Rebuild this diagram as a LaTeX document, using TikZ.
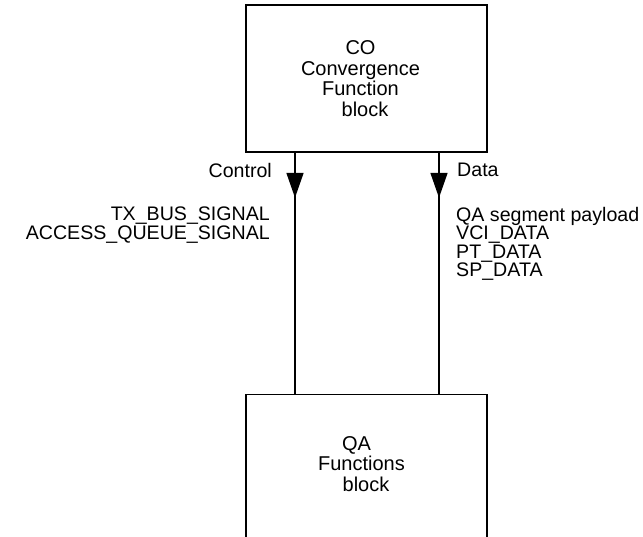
\documentclass[tikz,border=0pt]{standalone}
\usepackage{fontspec}
\setmainfont{Liberation Sans}
\usetikzlibrary{arrows.meta, positioning, decorations.markings}

\begin{document}
\begin{tikzpicture}[
    x=1pt, y=-1pt,
    box/.style={
        draw,
        line width=1.6pt,
        minimum width=241pt,
        inner sep=0pt
    },
    blocktext/.style={
        align=center,
        inner sep=0pt,
        font=\fontsize{20}{20.5}\selectfont
    },
    lbl/.style={
        inner sep=0pt,
        font=\fontsize{19.6}{18.5}\selectfont
    },
    flow/.style={
        line width=1.6pt,
        postaction={decorate},
        decoration={markings,
            mark=at position 45pt with {\arrow{Triangle[length=25pt, width=17pt]}}}
    },
    node distance=241pt
]
\useasboundingbox (0,0) rectangle (643,536);

\node[box, minimum height=147pt] (co) at (366.5,78.5) {};
\node[blocktext] (cotext) at ([xshift=-6pt]co.center)
{CO\\Convergence\\Function\\\hspace*{9pt}block};

\node[box, minimum height=167pt, below=of co] (qa) {};
\node[blocktext] (qatext) at ([xshift=-5pt, yshift=14pt]qa.center)
{QA\hspace*{10pt}\\Functions\\\hspace*{9pt}block};

\draw[flow] ([xshift=-71.5pt]co.south) -- ([xshift=-71.5pt]qa.north);
\draw[flow] ([xshift=72.5pt]co.south) -- ([xshift=72.5pt]qa.north);

\node[lbl, anchor=east] (ctl) at (272,170) {Control};
\node[lbl, anchor=west] (dat) at (457,170) {Data};

\node[lbl, anchor=north east, align=right] (ctlsig) at (270,207)
{TX\_BUS\_SIGNAL\\ACCESS\_QUEUE\_SIGNAL};
\node[lbl, anchor=north west, align=left] (datsig) at (456,207)
{QA segment payload\\VCI\_DATA\\PT\_DATA\\SP\_DATA};

\end{tikzpicture}
\end{document}
